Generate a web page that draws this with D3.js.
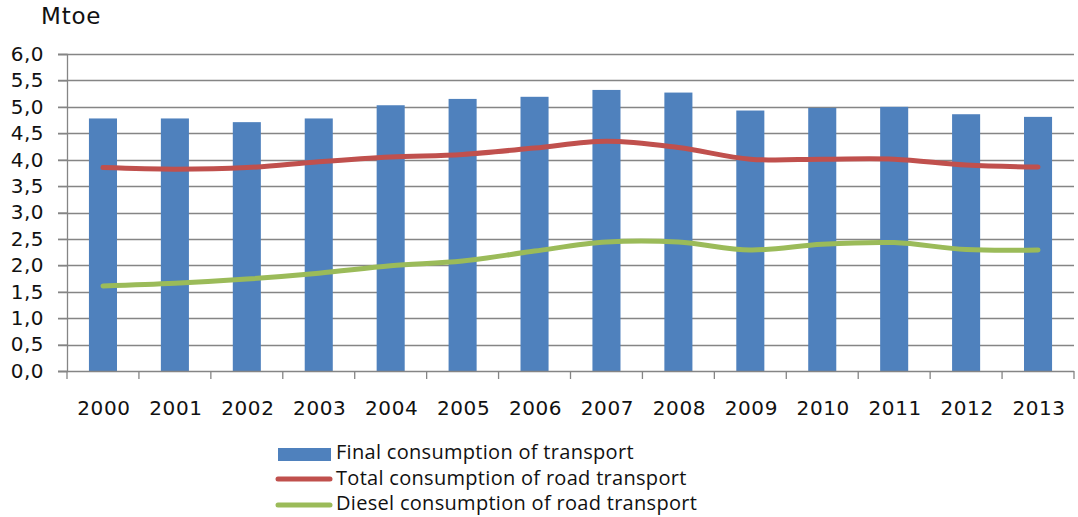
<!DOCTYPE html>
<html>
<head>
<meta charset="utf-8">
<script src="https://cdn.jsdelivr.net/npm/d3@7"></script>
<style>
  body { margin: 0; background: #fff; }
  svg { display: block; }
</style>
</head>
<body>
<div id="chart"></div>
<script>
// data
const YEARS = ["2000","2001","2002","2003","2004","2005","2006","2007","2008","2009","2010","2011","2012","2013"];
const FINAL = [4.78,4.78,4.71,4.78,5.03,5.15,5.19,5.32,5.27,4.93,4.98,5.00,4.86,4.81];
const ROAD = [3.85,3.82,3.85,3.96,4.05,4.10,4.22,4.35,4.23,4.01,4.01,4.01,3.90,3.86];
const DIESEL = [1.61,1.66,1.74,1.85,1.99,2.08,2.27,2.44,2.44,2.29,2.40,2.43,2.30,2.29];
const YTICKS = [0,0.5,1,1.5,2,2.5,3,3.5,4,4.5,5,5.5,6];
const LEGEND = ["Final consumption of transport","Total consumption of road transport","Diesel consumption of road transport"];

const W = 1078, H = 517;
const mLeft = 67, mRight = 1074, mTop = 54, mBottom = 371;

var svg = d3.select("#chart").append("svg").attr("width", W).attr("height", H);

var x = d3.scaleBand().domain(YEARS).range([mLeft, mRight]).paddingInner(0.61).paddingOuter(0.305);
var xc = d3.scaleBand().domain(YEARS).range([mLeft, mRight]);
var y = d3.scaleLinear().domain([0, 6]).range([mBottom, mTop]);

// grid
svg.append("g").selectAll("line").data(YTICKS.filter(d => d > 0)).join("line")
  .attr("x1", mLeft - 9).attr("x2", mRight)
  .attr("y1", d => Math.round(y(d)) + 0.5).attr("y2", d => Math.round(y(d)) + 0.5)
  .attr("stroke", "#858585").attr("stroke-width", 1.3);

// y axis
var yAxis = d3.axisLeft(y).tickValues(YTICKS).tickSize(9).tickPadding(14)
  .tickFormat(d => d3.format(".1f")(d).replace(".", ","));
var gy = svg.append("g").attr("transform", "translate(" + mLeft + ",0)").call(yAxis);
gy.select(".domain").attr("stroke", "#858585").attr("stroke-width", 1.3);
gy.selectAll(".tick line").attr("stroke", "#858585").attr("stroke-width", 1.3);
gy.selectAll("text").attr("font-family", "DejaVu Sans").attr("font-size", 20)
  .attr("letter-spacing", 0.5).attr("fill", "#111");

// bars
svg.append("g").selectAll("rect").data(FINAL).join("rect")
  .attr("x", (d, i) => x(YEARS[i]))
  .attr("width", x.bandwidth())
  .attr("y", d => y(d))
  .attr("height", d => y(0) - y(d))
  .attr("fill", "#4f81bd");

// x axis
svg.append("line").attr("x1", mLeft - 9).attr("x2", mRight)
  .attr("y1", mBottom + 0.5).attr("y2", mBottom + 0.5).attr("stroke", "#858585").attr("stroke-width", 1.3);
var bounds = YEARS.map(d => xc(d)).concat([mRight]);
svg.append("g").selectAll("line").data(bounds).join("line")
  .attr("x1", d => d).attr("x2", d => d).attr("y1", mBottom).attr("y2", mBottom + 8)
  .attr("stroke", "#858585").attr("stroke-width", 1.3);
svg.append("g").selectAll("text").data(YEARS).join("text")
  .attr("x", d => xc(d) + xc.bandwidth() / 2 + 1)
  .attr("y", 415)
  .attr("text-anchor", "middle")
  .attr("font-family", "DejaVu Sans").attr("font-size", 20).attr("letter-spacing", 0.6).attr("fill", "#111")
  .text(d => d);

// lines
var line = d3.line()
  .x((d, i) => xc(YEARS[i]) + xc.bandwidth() / 2)
  .y(d => y(d))
  .curve(d3.curveCatmullRom.alpha(0.5));
svg.append("path").datum(ROAD).attr("d", line).attr("fill", "none")
  .attr("stroke", "#c0504d").attr("stroke-width", 5).attr("stroke-linecap", "round");
svg.append("path").datum(DIESEL).attr("d", line).attr("fill", "none")
  .attr("stroke", "#9bbb59").attr("stroke-width", 5).attr("stroke-linecap", "round");

// unit label
svg.append("text").attr("x", 41).attr("y", 24)
  .attr("font-family", "DejaVu Sans").attr("font-size", 23).attr("letter-spacing", 0.8).attr("fill", "#111")
  .text("Mtoe");

// legend
var lg = svg.append("g").attr("font-family", "Open Sans").attr("font-size", 20)
  .attr("letter-spacing", 0.3).attr("fill", "#111");
lg.append("rect").attr("x", 278).attr("y", 448).attr("width", 53).attr("height", 13).attr("fill", "#4f81bd");
lg.append("line").attr("x1", 278).attr("x2", 330).attr("y1", 479).attr("y2", 479)
  .attr("stroke", "#c0504d").attr("stroke-width", 5).attr("stroke-linecap", "round");
lg.append("line").attr("x1", 278).attr("x2", 330).attr("y1", 505).attr("y2", 505)
  .attr("stroke", "#9bbb59").attr("stroke-width", 5).attr("stroke-linecap", "round");
lg.selectAll("text").data(LEGEND).join("text")
  .attr("x", 336).attr("y", (d, i) => 459 + i * 25.5)
  .text(d => d);
</script>
</body>
</html>
